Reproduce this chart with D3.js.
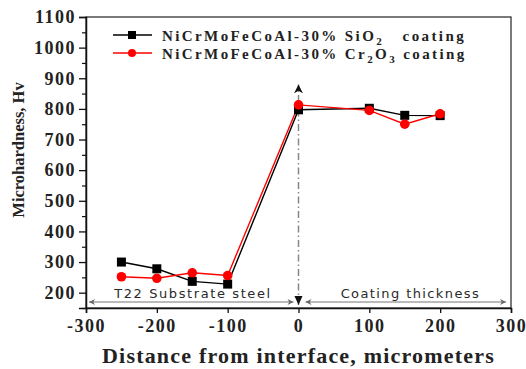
<!DOCTYPE html>
<html>
<head>
<meta charset="utf-8">
<script src="https://cdn.jsdelivr.net/npm/d3@7"></script>
<style>
  html, body { margin: 0; padding: 0; background: #fff; }
  svg { display: block; }
</style>
</head>
<body>
<div id="chart"></div>
<script>
// --- data ---
const distances = [-250, -200, -150, -100, 0, 100, 150, 200];
const sio2Values = [300, 278, 237, 228, 797, 802, 779, 778];
const cr2o3Values = [252, 247, 265, 256, 813, 795, 750, 784];
const xTicks = [-300, -200, -100, 0, 100, 200, 300];
const yTicks = [200, 300, 400, 500, 600, 700, 800, 900, 1000, 1100];
const yMinorTicks = [150, 250, 350, 450, 550, 650, 750, 850, 950, 1050];

const width = 526, height = 369;
const margin = { top: 17, right: 15, bottom: 61, left: 86 };
const innerW = width - margin.left - margin.right;
const innerH = height - margin.top - margin.bottom;
const serif = '"Liberation Serif", "Times New Roman", serif';
const sans = '"DejaVu Sans", Verdana, sans-serif';

const svg = d3.select('#chart').append('svg')
  .attr('width', width)
  .attr('height', height);

const defs = svg.append('defs');
function arrowMarker(id, color, w, h) {
  defs.append('marker')
    .attr('id', id)
    .attr('viewBox', '0 0 10 10')
    .attr('refX', 10).attr('refY', 5)
    .attr('markerWidth', w).attr('markerHeight', h)
    .attr('markerUnits', 'userSpaceOnUse')
    .attr('orient', 'auto-start-reverse')
    .append('path')
    .attr('d', 'M0,0 L10,5 L0,10 L3,5 Z')
    .attr('fill', color);
}
arrowMarker('arrGray', '#666', 9, 6);
arrowMarker('arrBlack', '#111', 9, 11);

const g = svg.append('g').attr('transform', `translate(${margin.left},${margin.top})`);

const x = d3.scaleLinear().domain([-300, 300]).range([0, innerW]);
const y = d3.scaleLinear().domain([150, 1100]).range([innerH, 0]);

function styleTickText(sel) {
  sel.selectAll('text').attr('fill', '#222')
    .style('font-family', serif).style('font-weight', 'bold')
    .style('font-size', '18px').style('letter-spacing', '1.5px');
}

// frame
g.append('rect')
  .attr('width', innerW).attr('height', innerH)
  .attr('fill', 'none').attr('stroke', '#222').attr('stroke-width', 1.2);

// x axis
g.append('g')
  .attr('transform', `translate(0,${innerH})`)
  .call(d3.axisBottom(x).tickValues(xTicks).tickSize(5).tickPadding(6).tickFormat(d => String(d)))
  .call(sel => {
    sel.select('.domain').attr('stroke', '#111').attr('stroke-width', 1.5);
    sel.selectAll('line').attr('stroke', '#111').attr('stroke-width', 1.3);
    styleTickText(sel);
  });

// y axis
g.append('g')
  .call(d3.axisLeft(y).tickValues(yMinorTicks).tickSize(4).tickFormat(''))
  .call(sel => {
    sel.select('.domain').remove();
    sel.selectAll('line').attr('stroke', '#111').attr('stroke-width', 1.2);
  });
g.append('g')
  .call(d3.axisLeft(y).tickValues(yTicks).tickSize(7).tickPadding(3).tickFormat(d => String(d)))
  .call(sel => {
    sel.select('.domain').attr('stroke', '#111').attr('stroke-width', 1.5);
    sel.selectAll('line').attr('stroke', '#111').attr('stroke-width', 1.3);
    styleTickText(sel);
  });

// axis titles
svg.append('text')
  .attr('x', margin.left + x(0))
  .attr('y', 363)
  .attr('text-anchor', 'middle')
  .attr('fill', '#222')
  .style('font-family', serif).style('font-weight', 'bold')
  .style('font-size', '22px').style('letter-spacing', '1.2px')
  .text('Distance from interface, micrometers');
svg.append('text')
  .attr('transform', 'translate(24,150) rotate(-90)')
  .attr('text-anchor', 'middle')
  .attr('fill', '#222')
  .style('font-family', serif).style('font-weight', 'bold').style('font-size', '16.5px')
  .text('Microhardness, Hv');

// interface line (dash-dot) with arrows
g.append('line')
  .attr('x1', x(0)).attr('x2', x(0))
  .attr('y1', innerH - 3).attr('y2', y(880))
  .attr('stroke', '#888').attr('stroke-width', 1.5)
  .attr('stroke-dasharray', '7,3,1.5,3')
  .attr('marker-end', 'url(#arrBlack)');
g.append('path')
  .attr('d', `M${x(0) - 4},${innerH - 12} L${x(0) + 4},${innerH - 12} L${x(0)},${innerH - 3} Z`)
  .attr('fill', '#111');

// region arrows
const arrowY = innerH - 6;
g.append('line')
  .attr('x1', x(-300) + 3).attr('x2', x(0) - 5)
  .attr('y1', arrowY).attr('y2', arrowY)
  .attr('stroke', '#777').attr('stroke-width', 1)
  .attr('marker-start', 'url(#arrGray)').attr('marker-end', 'url(#arrGray)');
g.append('line')
  .attr('x1', x(0) + 7).attr('x2', x(300) - 5)
  .attr('y1', arrowY).attr('y2', arrowY)
  .attr('stroke', '#777').attr('stroke-width', 1)
  .attr('marker-start', 'url(#arrGray)').attr('marker-end', 'url(#arrGray)');
g.append('text')
  .attr('x', x(-149)).attr('y', arrowY - 4)
  .attr('text-anchor', 'middle').attr('fill', '#2a2a2a')
  .style('font-family', sans).style('font-size', '13px').style('letter-spacing', '1.6px')
  .text('T22 Substrate steel');
g.append('text')
  .attr('x', x(158)).attr('y', arrowY - 4)
  .attr('text-anchor', 'middle').attr('fill', '#2a2a2a')
  .style('font-family', sans).style('font-size', '13px').style('letter-spacing', '1.4px')
  .text('Coating thickness');

// series
const line = d3.line().x(d => x(d[0])).y(d => y(d[1]));
const black = distances.map((d, i) => [d, sio2Values[i]]);
const red = distances.map((d, i) => [d, cr2o3Values[i]]);

g.append('path').datum(black)
  .attr('d', line).attr('fill', 'none').attr('stroke', '#000').attr('stroke-width', 1.4);
g.append('path').datum(red)
  .attr('d', line).attr('fill', 'none').attr('stroke', '#f00').attr('stroke-width', 1.4);

g.selectAll('.sq').data(black).join('rect')
  .attr('x', d => x(d[0]) - 4.5).attr('y', d => y(d[1]) - 4.5)
  .attr('width', 9).attr('height', 9).attr('fill', '#000');
g.selectAll('.dot').data(red).join('circle')
  .attr('cx', d => x(d[0])).attr('cy', d => y(d[1]))
  .attr('r', 4.8).attr('fill', '#f00');

// legend
const legend = svg.append('g');
const legendRows = [
  { color: '#000', shape: 'square', y: 35, main: 'NiCrMoFeCoAl-30% SiO', parts: [['2', true], ['   coating', false]] },
  { color: '#f00', shape: 'circle', y: 53, main: 'NiCrMoFeCoAl-30% Cr', parts: [['2', true], ['O', false], ['3', true], [' coating', false]] }
];
legendRows.forEach(r => {
  legend.append('line')
    .attr('x1', 113).attr('x2', 152).attr('y1', r.y).attr('y2', r.y)
    .attr('stroke', r.color).attr('stroke-width', 1.4);
  if (r.shape === 'square') {
    legend.append('rect').attr('x', 128).attr('y', r.y - 4).attr('width', 8).attr('height', 8).attr('fill', r.color);
  } else {
    legend.append('circle').attr('cx', 132).attr('cy', r.y).attr('r', 4).attr('fill', r.color);
  }
  const t = legend.append('text')
    .attr('x', 162).attr('y', r.y + 6)
    .attr('fill', '#222')
    .attr('xml:space', 'preserve')
    .style('white-space', 'pre')
    .style('font-family', serif).style('font-weight', 'bold')
    .style('font-size', '15px').style('letter-spacing', '2.4px');
  t.append('tspan').text(r.main);
  r.parts.forEach(([txt, sub]) => {
    t.append('tspan')
      .attr('dy', sub ? 4 : -4)
      .style('font-size', sub ? '11px' : '15px')
      .text(txt);
  });
});
</script>
</body>
</html>
